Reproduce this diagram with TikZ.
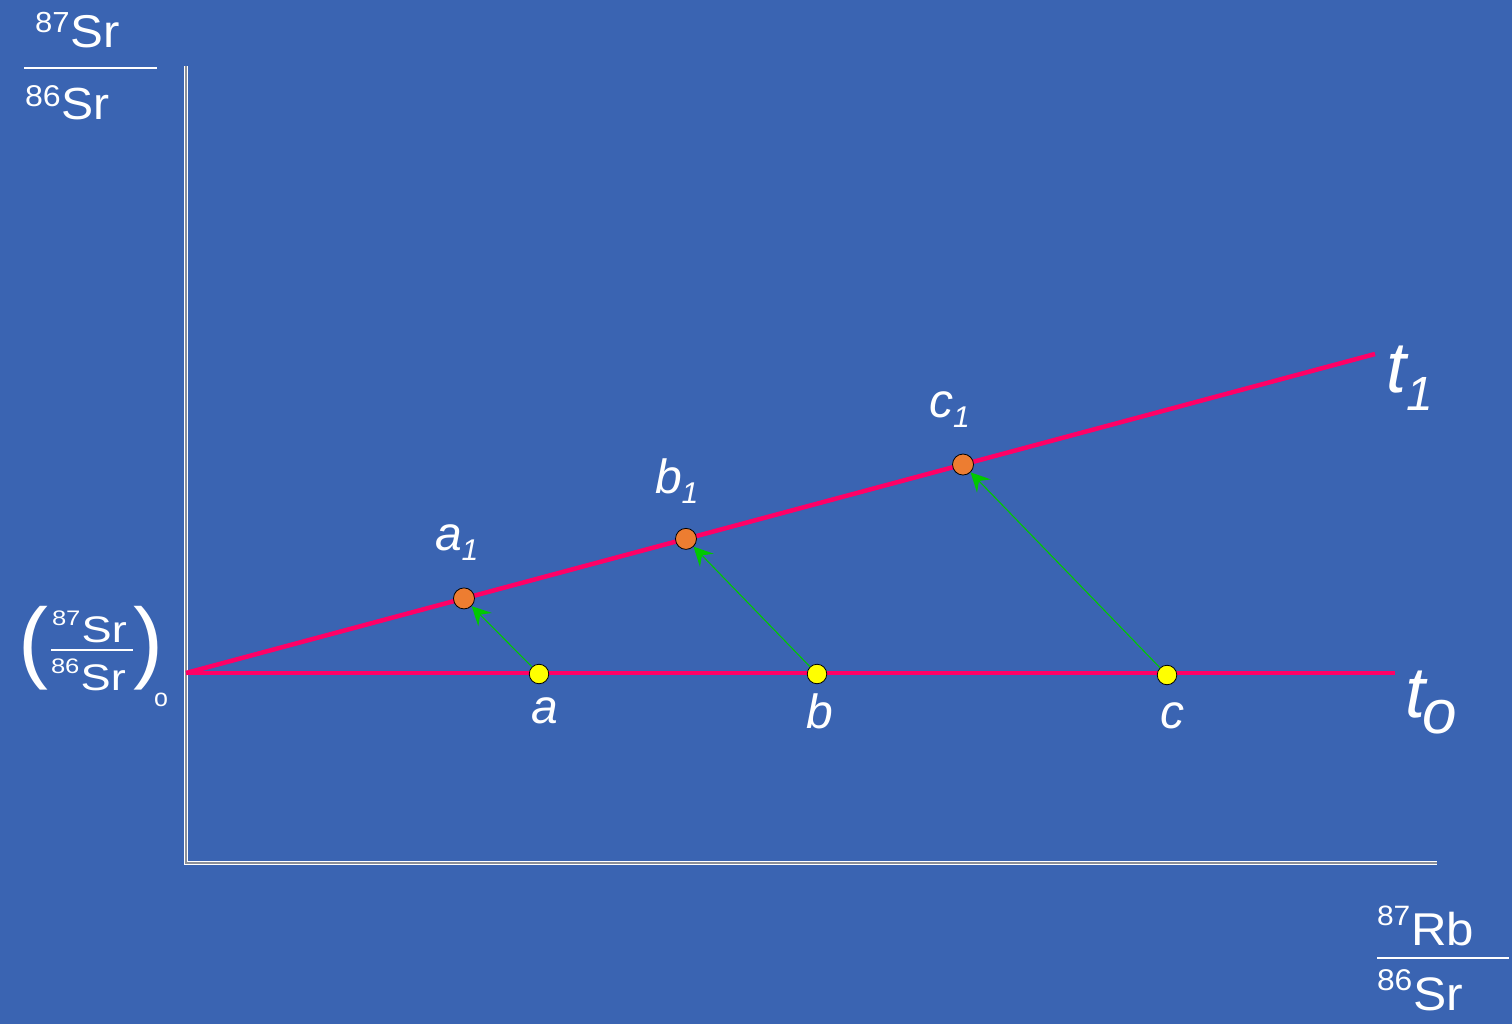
\documentclass[tikz,border=0pt]{standalone}
\usepackage{graphicx}
\usepackage{fontspec}
\setmainfont{Liberation Sans}
\usetikzlibrary{arrows.meta,calc}
\definecolor{bg}{RGB}{58,100,178}
\definecolor{pinkline}{RGB}{255,0,102}
\definecolor{dotorange}{RGB}{237,125,49}
\definecolor{dotyellow}{RGB}{255,255,0}
\definecolor{arrgreen}{RGB}{0,200,0}
\definecolor{axisgrey}{RGB}{140,144,152}
\newcommand\myiso[6]{\scalebox{#6}[1]{{\fontsize{#3}{#3}\selectfont\raisebox{#5}{#1}}\kern1pt{\fontsize{#4}{#4}\selectfont #2}}}
\newcommand\mysub[3]{\raisebox{-#3}{\fontsize{#2}{#2}\selectfont #1}}
\begin{document}
\begin{tikzpicture}[x=1pt,y=-1pt,
  txt/.style={text=white, inner sep=0pt, outer sep=0pt, anchor=base west},
  lbl/.style={txt, font=\itshape\fontsize{48}{48}\selectfont},
  tlbl/.style={txt, font=\itshape\fontsize{72}{72}\selectfont},
  axisline/.style={draw=white, line width=1.4pt, double=axisgrey, double distance=2pt, line join=miter},
  isoline/.style={pinkline, line width=4.5pt},
  fracline/.style={white, line width=1.6pt},
  ydot/.style={circle, draw=black, line width=0.8pt, fill=dotyellow, minimum size=19.5pt, inner sep=0pt},
  odot/.style={circle, draw=black, line width=0.8pt, fill=dotorange, minimum size=21pt, inner sep=0pt},
  growarrow/.style={arrgreen, line width=1.1pt, -{Stealth[length=19pt,width=19pt,inset=7pt]}}
]
\fill[bg] (0,0) rectangle (1512,1024);
\useasboundingbox (0,0) rectangle (1512,1024);

% axes
\coordinate (ytop) at (186,66);
\coordinate (corner) at (186,863);
\coordinate (xend) at (1437,863);
\draw[axisline] (ytop) -- (corner) -- (xend);

% axis labels
\node[txt] (ynum) at (35,48) {\myiso{87}{Sr}{29}{46}{15pt}{1.07}};
\node[txt] (yden) at (25,120) {\myiso{86}{Sr}{30}{45}{13pt}{1.07}};
\coordinate (yfl) at (24,68);
\coordinate (yfr) at (157,68);
\draw[fracline] (yfl) -- (yfr);

\node[txt] (xnum) at (1377,945) {\myiso{87}{Rb}{28}{46}{20pt}{1.07}};
\node[txt] (xden) at (1377,1010) {\myiso{86}{Sr}{30}{47}{20pt}{1.06}};
\coordinate (xfl) at (1377,958);
\coordinate (xfr) at (1509,958);
\draw[fracline] (xfl) -- (xfr);

% initial ratio label
\node[txt, font=\fontsize{90}{90}\selectfont] (lpar) at (19,671) {(};
\node[txt, font=\fontsize{90}{90}\selectfont] (rpar) at (133,671) {)};
\node[txt, font=\fontsize{25}{25}\selectfont] (isub) at (154,706) {o};
\node[txt] (inum) at (52,642) {\myiso{87}{Sr}{21}{37}{17pt}{1.22}};
\node[txt] (iden) at (51,690) {\myiso{86}{Sr}{21}{37}{17pt}{1.22}};
\coordinate (ifl) at (51,650);
\coordinate (ifr) at (133,650);
\draw[fracline] (ifl) -- (ifr);

% isochrons
\coordinate (O) at (186,673);
\coordinate (T0end) at (1395,673);
\coordinate (T1end) at (1375,354);
\draw[isoline] (O) -- (T0end);
\draw[isoline] (O) -- (T1end);

% points
\node[ydot] (a) at (539,674) {};
\node[ydot] (b) at (817,674) {};
\node[ydot] (c) at (1167,675) {};
\node[odot] (a1) at ($(O)!0.2338!(T1end)$) {};
\node[odot] (b1) at ($(O)!0.4205!(T1end)$) {};
\node[odot] (c1) at ($(O)!0.6535!(T1end)$) {};

% growth arrows
\draw[growarrow] (a) -- (a1);
\draw[growarrow] (b) -- (b1);
\draw[growarrow] (c) -- (c1);

% labels
\node[lbl] (la) at (531,723) {a};
\node[lbl] (lb) at (806,728) {b};
\node[lbl] (lc) at (1160,728) {c};
\node[lbl] (la1) at (435,550) {a\mysub{1}{30}{10pt}};
\node[lbl] (lb1) at (655,493) {b\mysub{1}{30}{10pt}};
\node[lbl] (lc1) at (929,417) {c\mysub{1}{30}{10pt}};
\node[tlbl] (lt1) at (1386,392) {t\mysub{1}{48}{18pt}};
\node[tlbl] (lt0) at (1405,717) {t\kern-3pt\mysub{o}{62}{16pt}};
\end{tikzpicture}
\end{document}
